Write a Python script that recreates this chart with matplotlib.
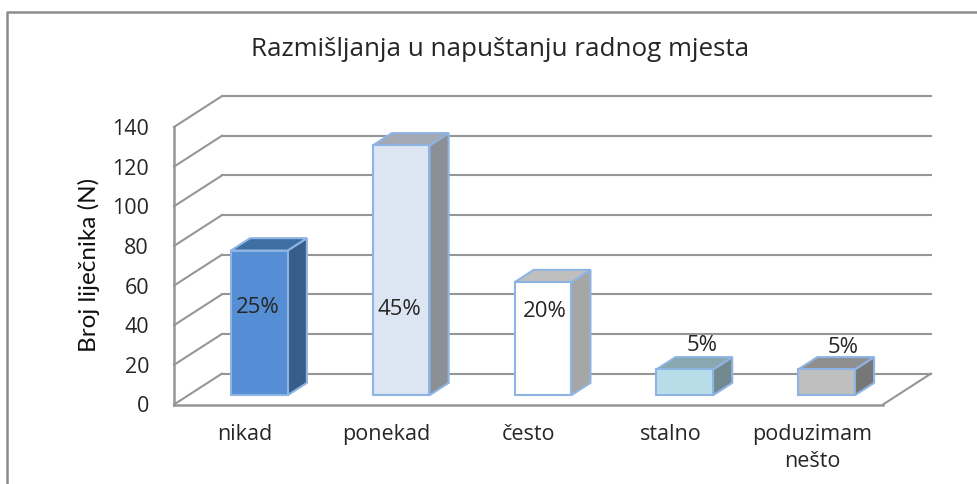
import matplotlib
matplotlib.use("Agg")
import matplotlib.pyplot as plt
from matplotlib.lines import Line2D
from matplotlib.patches import Polygon

#Chart data
categories = ["nikad", "ponekad", "često", "stalno", "poduzimam\nnešto"]
values = [73, 126, 57, 13, 13]
percent_labels = ["25%", "45%", "20%", "5%", "5%"]
y_ticks = [0, 20, 40, 60, 80, 100, 120, 140]
label_heights = [48.7, 47.7, 47, 30, 29]
label_shifts = [-0.01, -0.01, 0.015, 0.125, 0.115]

#Colours for each bar: front, top, side
front_colours = ["#558ed5", "#dce6f2", "#ffffff", "#b7dee8", "#bfbfbf"]
top_colours = ["#3f6ea3", "#a3a9b3", "#bfbfbf", "#89a7ae", "#8f8f8f"]
side_colours = ["#385d8a", "#8b9097", "#a6a6a6", "#71898f", "#777777"]
Edge_Colour = "#8eb4e3"
Grid_Colour = "#969696"
Text_Colour = "#262626"

#Size of the 3D depth in data units
depth_x = 0.3385
depth_y = 15.6
bar_width = 0.40

plt.rcParams["font.family"] = "Open Sans"

fig = plt.figure(figsize=(9.77, 4.84), dpi=100, facecolor="white")
ax = fig.add_axes([174 / 977, (484 - 404.5) / 484, 709 / 977, 277.5 / 484])
ax.set_xlim(0, 5)
ax.set_ylim(0, 140)
ax.patch.set_visible(False)


#Draw one 3D bar, the front face sits 30% into the depth
def draw_bar(x, value, front, top, side):
    left = x - bar_width / 2 + 0.3 * depth_x
    right = left + bar_width
    base = 0.3 * depth_y
    dx = 0.4 * depth_x
    dy = 0.4 * depth_y
    faces = [
        ([(right, base), (right + dx, base + dy), (right + dx, base + dy + value), (right, base + value)], side),
        ([(left, base + value), (right, base + value), (right + dx, base + dy + value), (left + dx, base + dy + value)], top),
        ([(left, base), (right, base), (right, base + value), (left, base + value)], front),
    ]
    for points, colour in faces:
        ax.add_patch(Polygon(points, closed=True, facecolor=colour, edgecolor=Edge_Colour,
                             linewidth=1.5, clip_on=False, zorder=3))


#Back wall and side wall gridlines
for tick in y_ticks:
    ax.plot([0, depth_x], [tick, tick + depth_y], color=Grid_Colour, lw=1.5, clip_on=False, zorder=1)
    ax.plot([depth_x, 5 + depth_x], [tick + depth_y, tick + depth_y], color=Grid_Colour, lw=1.5,
            clip_on=False, zorder=1)

#Floor edge on the right
ax.plot([5, 5 + depth_x], [0, depth_y], color=Grid_Colour, lw=1.5, clip_on=False, zorder=1)

for i, value in enumerate(values):
    draw_bar(i + 0.5, value, front_colours[i], top_colours[i], side_colours[i])
    ax.text(i + 0.5 + 0.3 * depth_x + label_shifts[i], label_heights[i], percent_labels[i],
            ha="center", va="center", fontsize=16, color=Text_Colour, zorder=4)

#Axes, ticks and labels
for name in ["top", "right"]:
    ax.spines[name].set_visible(False)
for name in ["left", "bottom"]:
    ax.spines[name].set_color(Grid_Colour)
    ax.spines[name].set_linewidth(1.8)
ax.set_yticks(y_ticks)
ax.set_xticks([i + 0.5 for i in range(len(categories))])
ax.set_xticklabels(categories, linespacing=1.4)
ax.tick_params(axis="both", length=0, labelcolor=Text_Colour)
ax.tick_params(axis="x", pad=14, labelsize=15.5)
ax.tick_params(axis="y", pad=18, labelsize=15.5)
ax.set_ylabel("Broj liječnika (N)", fontsize=17.5, color="#111111", family="Lato")
ax.yaxis.set_label_coords(-0.104, 0.503)

fig.text(500 / 977, 1 - 50 / 484, "Razmišljanja u napuštanju radnog mjesta", ha="center", va="center",
         fontsize=18.7, color=Text_Colour)

#Frame around the picture, only top and left are visible
fig.add_artist(Line2D([7 / 977, 7 / 977, 1], [0, 1 - 12 / 484, 1 - 12 / 484], color="#8c8c8c", lw=1.8))

plt.savefig("out.png", dpi=100)
